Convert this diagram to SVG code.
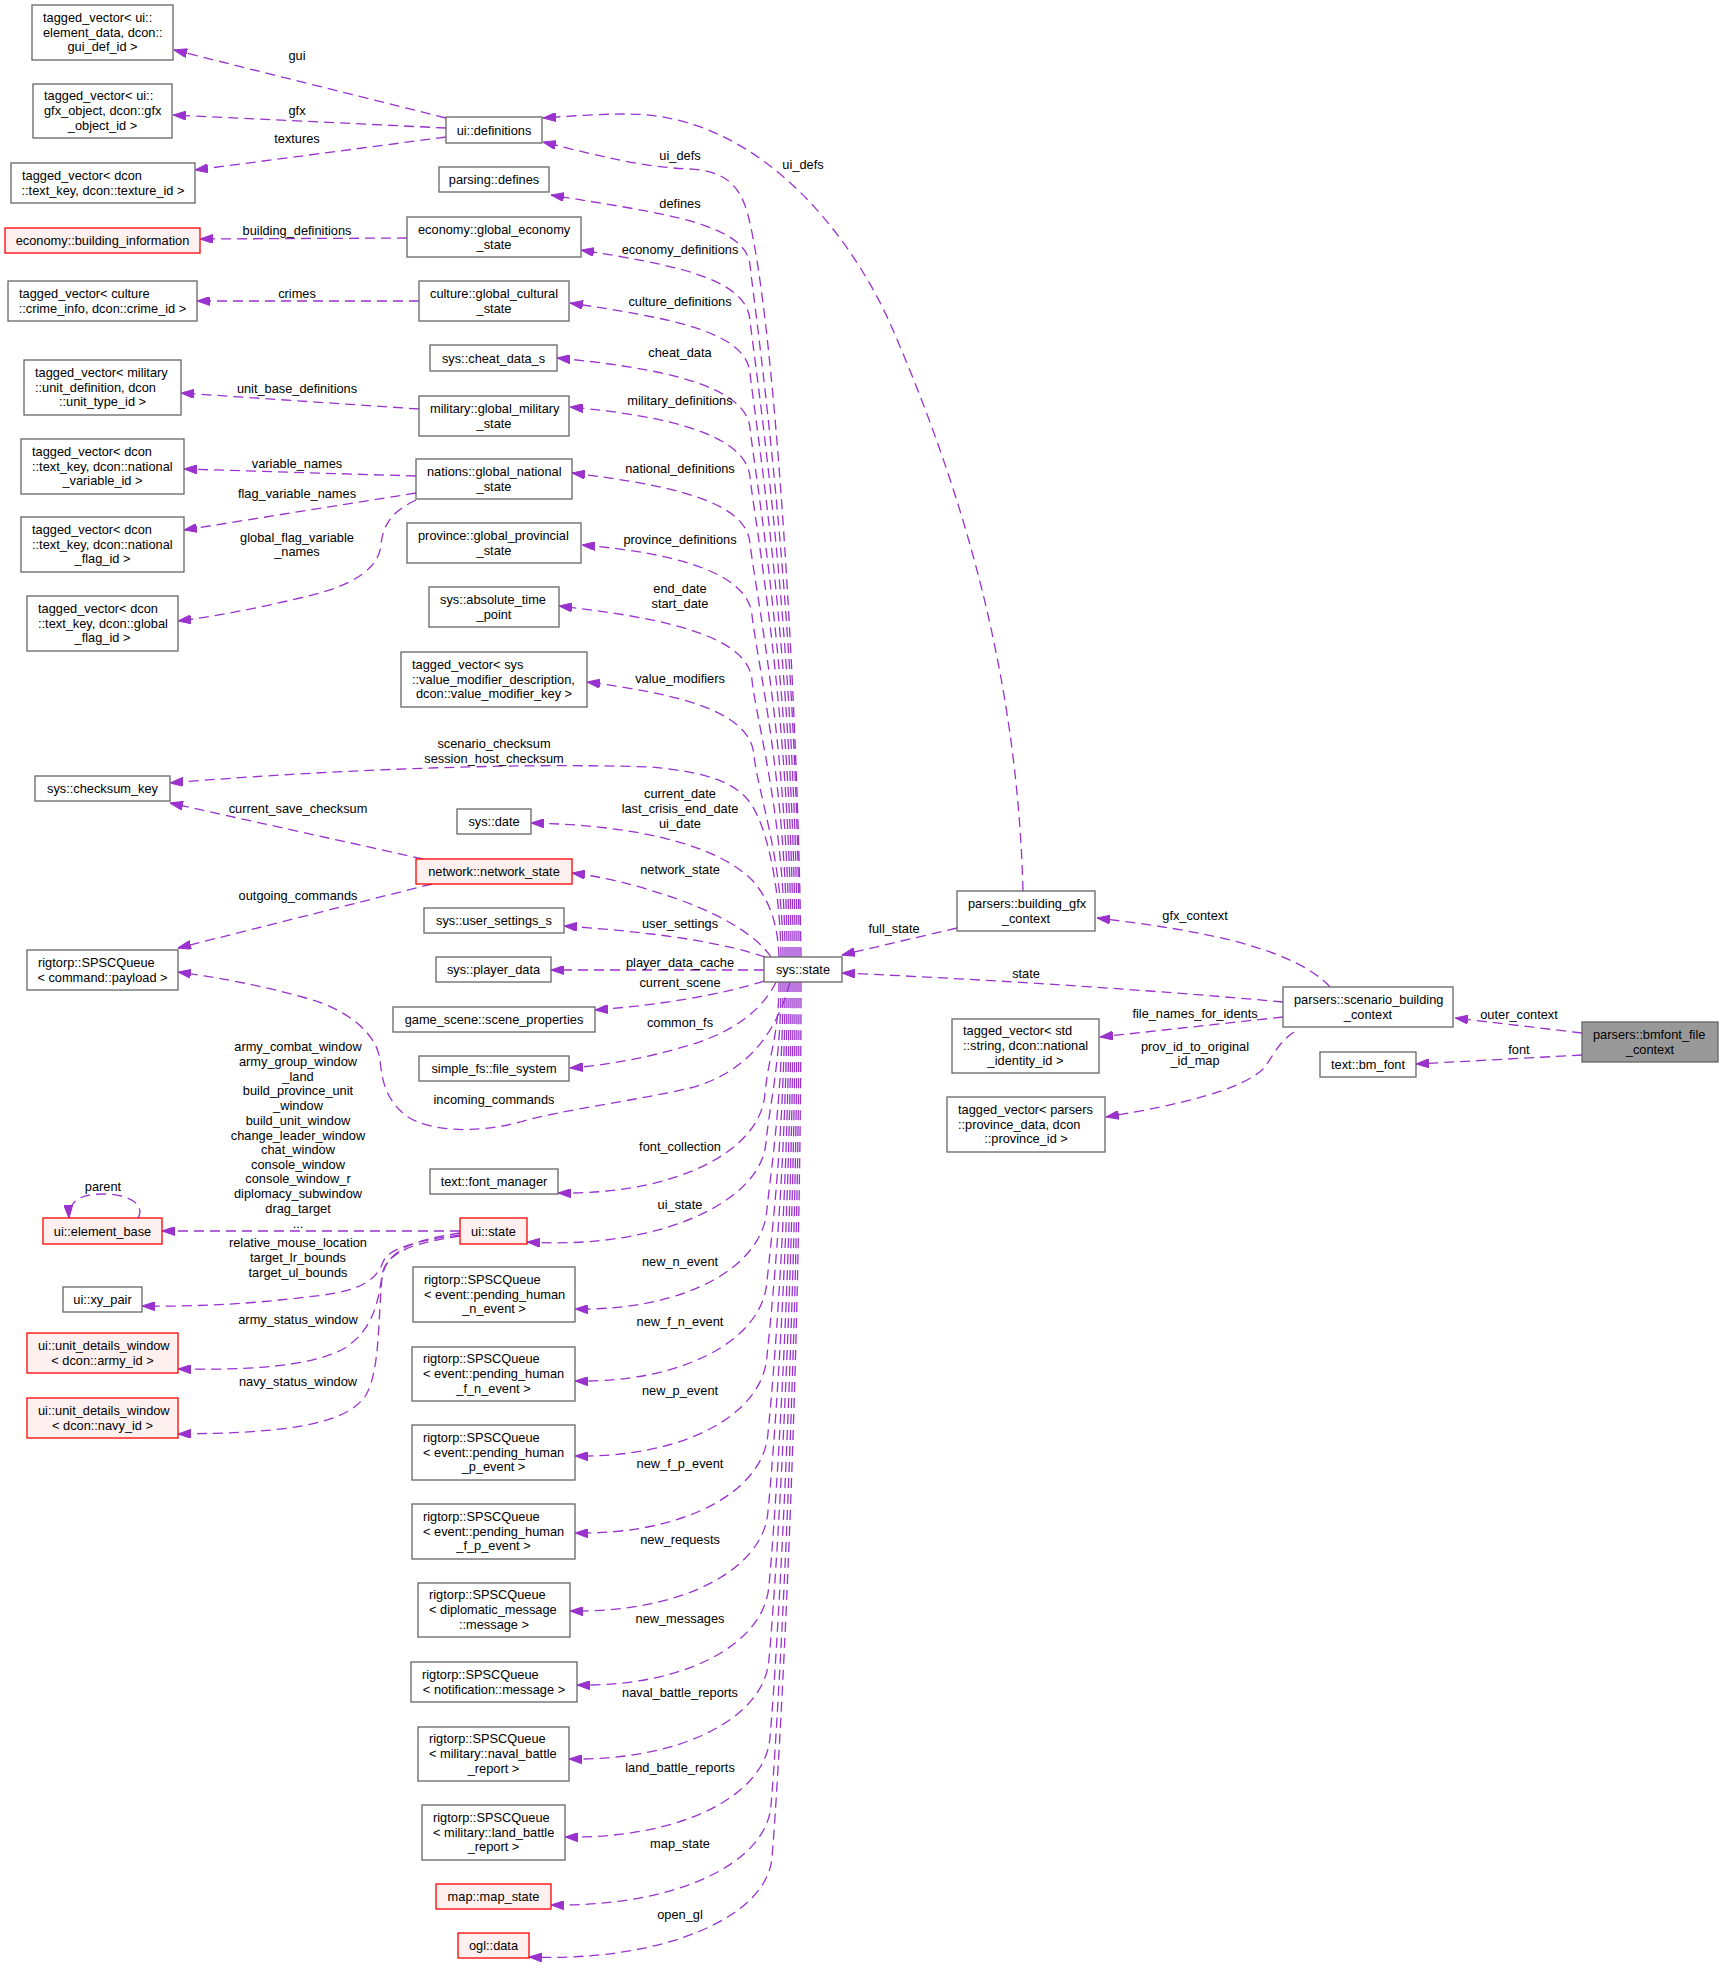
<svg xmlns="http://www.w3.org/2000/svg" width="1723" height="1970" viewBox="0 0 1723 1970">
<style>
text{font-family:"Liberation Sans",Arial,Helvetica,sans-serif;font-size:12.8px;fill:#000}
.m{text-anchor:middle}
.s{text-anchor:start}
.n rect{fill:#fff;stroke:#666;stroke-width:1.3}
.r rect{fill:#fff0f0;stroke:#f00;stroke-width:1.3}
.g rect{fill:#999;stroke:#666;stroke-width:1.3}
.e path{fill:none;stroke:#9a32cd;stroke-width:1.3;stroke-dasharray:10,6;marker-end:url(#ah)}
</style>
<defs>
<marker id="ah" viewBox="0 0 13 9" refX="13" refY="4.5" markerWidth="13" markerHeight="9" markerUnits="userSpaceOnUse" orient="auto">
<path d="M0,0 L13,4.5 L0,9 z" fill="#9a32cd" stroke="#9a32cd" stroke-width="1"/>
</marker>
</defs>
<rect width="1723" height="1970" fill="#fff"/>

<g id="edges" class="e">
<g id="e_gui"><path d="M446,118 L174,50"/><text class="m" x="297" y="59.5">gui</text></g>
<g id="e_gfx"><path d="M446,128 L173,115"/><text class="m" x="297" y="114.5">gfx</text></g>
<g id="e_tex"><path d="M446,137 L195,170"/><text class="m" x="297" y="142.5">textures</text></g>
<g id="e_bld"><path d="M407,238 L200,239"/><text class="m" x="297" y="234.5">building_definitions</text></g>
<g id="e_crimes"><path d="M419,301 L197,301"/><text class="m" x="297" y="297.5">crimes</text></g>
<g id="e_unitbase"><path d="M419,409 L181,393"/><text class="m" x="297" y="392.5">unit_base_definitions</text></g>
<g id="e_varnames"><path d="M416,476 L184,469"/><text class="m" x="297" y="467.5">variable_names</text></g>
<g id="e_flagvar"><path d="M416,493 L184,530"/><text class="m" x="297" y="497.5">flag_variable_names</text></g>
<g id="e_globflag"><path d="M416,500 C395,510 383,522 381,545 C379,565 360,585 300,598 C250,610 210,617 178,621"/><text class="m" x="297" y="541.5">global_flag_variable</text><text class="m" x="297" y="556">_names</text></g>
<g id="e_cursave"><path d="M423,859 L170,803"/><text class="m" x="298" y="812.5">current_save_checksum</text></g>
<g id="e_outgoing"><path d="M432,884 L178,948"/><text class="m" x="298" y="899.5">outgoing_commands</text></g>
<g id="e_elembase"><path d="M460,1231 L162,1231"/>
<text class="m" x="298" y="1051.2">army_combat_window</text>
<text class="m" x="298" y="1066.2">army_group_window</text>
<text class="m" x="298" y="1080.5">_land</text>
<text class="m" x="298" y="1095.2">build_province_unit</text>
<text class="m" x="298" y="1110.2">_window</text>
<text class="m" x="298" y="1124.5">build_unit_window</text>
<text class="m" x="298" y="1139.5">change_leader_window</text>
<text class="m" x="298" y="1153.8">chat_window</text>
<text class="m" x="298" y="1168.8">console_window</text>
<text class="m" x="298" y="1183.2">console_window_r</text>
<text class="m" x="298" y="1198.2">diplomacy_subwindow</text>
<text class="m" x="298" y="1213.2">drag_target</text>
<text class="m" x="298" y="1228">...</text>
<text class="m" x="298" y="1247.2">relative_mouse_location</text>
<text class="m" x="298" y="1261.8">target_lr_bounds</text>
<text class="m" x="298" y="1276.8">target_ul_bounds</text>
</g>
<g id="e_parent"><path d="M138,1218 C146,1204 128,1194 103,1194 C82,1194 68,1200 69,1218"/><text class="m" x="103" y="1191">parent</text></g>
<g id="e_xypair"><path d="M460,1235 C420,1240 388,1248 383,1262 C375,1285 350,1293 306,1297 C260,1303 200,1307 142,1306"/></g>
<g id="e_army"><path d="M460,1236 C420,1242 386,1250 382,1275 C378,1305 372,1330 345,1348 C310,1368 240,1370 178,1369"/><text class="m" x="298" y="1323.5">army_status_window</text></g>
<g id="e_navy"><path d="M460,1233 C420,1239 386,1248 382,1278 C378,1320 380,1370 366,1395 C345,1428 270,1433 178,1434"/><text class="m" x="298" y="1385.5">navy_status_window</text></g>

<g id="e_uidefs"><path d="M801,957 C798,700 775,320 748,215 C740,185 725,171 690,169 C640,167 600,156 543,142"/><text class="m" x="680" y="159.5">ui_defs</text></g>
<g id="e_defines"><path d="M799,957 C799,611 754,305 750,265 C746,223 660,213 551,195"/><text class="m" x="680" y="207.5">defines</text></g>
<g id="e_econ"><path d="M797,957 C797,638 754,360 750,320 C746,278 674,265 581,250"/><text class="m" x="680" y="253.5">economy_definitions</text></g>
<g id="e_culture"><path d="M795,957 C795,665 754,413 750,373 C746,331 669,318 570,303"/><text class="m" x="680" y="305.5">culture_definitions</text></g>
<g id="e_cheat"><path d="M793,957 C793,692 754,468 750,428 C746,386 663,368 557,358"/><text class="m" x="680" y="356.5">cheat_data</text></g>
<g id="e_military"><path d="M791,957 C791,717 754,517 750,477 C746,435 669,416 570,407"/><text class="m" x="680" y="404.5">military_definitions</text></g>
<g id="e_national"><path d="M789,957 C789,750 754,583 750,543 C746,501 670,485 572,473"/><text class="m" x="680" y="472.5">national_definitions</text></g>
<g id="e_province"><path d="M787,957 C787,786 756,655 752,615 C748,573 676,553 582,545"/><text class="m" x="680" y="543.5">province_definitions</text></g>
<g id="e_dates"><path d="M785,957 C785,818 756,720 752,680 C748,636 665,618 559,606"/><text class="m" x="680" y="592.5">end_date</text><text class="m" x="680" y="607.5">start_date</text></g>
<g id="e_valmod"><path d="M783,957 C783,856 758,795 754,755 C750,711 679,694 587,682"/><text class="m" x="680" y="682.5">value_modifiers</text></g>
<g id="e_checksum"><path d="M781,957 C780,880 765,820 748,800 C735,784 710,772 650,767 C500,762 300,772 170,783"/><text class="m" x="494" y="747.5">scenario_checksum</text><text class="m" x="494" y="762.5">session_host_checksum</text></g>
<g id="e_curdate"><path d="M779,957 C778,925 770,900 752,880 C730,858 690,842 640,833 C600,826 570,824 531,823"/><text class="m" x="680" y="797.5">current_date</text><text class="m" x="680" y="812.5">last_crisis_end_date</text><text class="m" x="680" y="827.5">ui_date</text></g>
<g id="e_network"><path d="M771,957 C760,940 730,918 680,900 C640,886 610,878 572,873"/><text class="m" x="680" y="873.5">network_state</text></g>
<g id="e_usersettings"><path d="M765,957 C730,945 670,933 564,926"/><text class="m" x="680" y="927.5">user_settings</text></g>
<g id="e_playerdata"><path d="M764,970 L551,970"/><text class="m" x="680" y="966.5">player_data_cache</text></g>
<g id="e_scene"><path d="M764,981 C720,995 660,1005 595,1010"/><text class="m" x="680" y="986.5">current_scene</text></g>
<g id="e_commonfs"><path d="M776,982 C765,1005 740,1030 690,1045 C650,1057 610,1065 570,1068"/><text class="m" x="680" y="1026.5">common_fs</text></g>
<g id="e_incoming"><path d="M790,982 C775,1040 740,1075 690,1088 C640,1100 560,1110 520,1122 C480,1133 430,1133 405,1115 C385,1098 382,1080 380,1060 C377,1035 350,1010 306,998 C260,985 220,978 178,972"/><text class="m" x="494" y="1103.5">incoming_commands</text></g>
<g id="e_fontcoll"><path d="M779,982 C779,1037 769,1053 765,1093 C761,1153 672,1195 558,1193"/><text class="m" x="680" y="1150.5">font_collection</text></g>
<g id="e_uistate"><path d="M781,982 C781,1062 770,1102 766,1142 C762,1202 658,1250 527,1242"/><text class="m" x="680" y="1208.5">ui_state</text></g>
<g id="e_newn"><path d="M783,982 C783,1095 771,1169 767,1209 C763,1269 681,1311 575,1309"/><text class="m" x="680" y="1265.5">new_n_event</text></g>
<g id="e_newfn"><path d="M785,982 C785,1131 771,1241 767,1281 C763,1341 681,1383 575,1381"/><text class="m" x="680" y="1325.5">new_f_n_event</text></g>
<g id="e_newp"><path d="M787,982 C787,1169 771,1316 767,1356 C763,1416 681,1458 575,1456"/><text class="m" x="680" y="1394.5">new_p_event</text></g>
<g id="e_newfp"><path d="M789,982 C789,1207 772,1393 768,1433 C764,1493 681,1535 575,1533"/><text class="m" x="680" y="1467.5">new_f_p_event</text></g>
<g id="e_newreq"><path d="M791,982 C791,1246 772,1471 768,1511 C764,1571 679,1613 570,1611"/><text class="m" x="680" y="1543.5">new_requests</text></g>
<g id="e_newmsg"><path d="M793,982 C793,1283 773,1545 769,1585 C765,1645 683,1687 577,1685"/><text class="m" x="680" y="1622.5">new_messages</text></g>
<g id="e_naval"><path d="M795,982 C795,1320 773,1619 769,1659 C765,1719 679,1761 569,1759"/><text class="m" x="680" y="1696.5">naval_battle_reports</text></g>
<g id="e_land"><path d="M797,982 C797,1359 774,1697 770,1737 C766,1797 678,1839 565,1837"/><text class="m" x="680" y="1771.5">land_battle_reports</text></g>
<g id="e_map"><path d="M799,982 C799,1393 775,1765 771,1805 C767,1865 672,1907 551,1905"/><text class="m" x="680" y="1847.5">map_state</text></g>
<g id="e_ogl"><path d="M801,982 C801,1420 776,1817 772,1857 C768,1917 663,1962 529,1957"/><text class="m" x="680" y="1918.5">open_gl</text></g>

<g id="e_bgfx_uidefs"><path d="M1023,891 C1018,700 975,520 893,330 C853,237 760,114 627,114 C600,114 570,116 543,118"/><text class="m" x="803" y="168.5">ui_defs</text></g>
<g id="e_fullstate"><path d="M957,928 L842,955"/><text class="m" x="894" y="932.5">full_state</text></g>
<g id="e_state"><path d="M1283,1002 C1150,990 1000,980 842,973"/><text class="m" x="1026" y="977.5">state</text></g>
<g id="e_gfxctx"><path d="M1330,987 C1310,965 1270,950 1230,940 C1180,928 1130,922 1097,918"/><text class="m" x="1195" y="919.5">gfx_context</text></g>
<g id="e_filenames"><path d="M1283,1017 L1100,1037"/><text class="m" x="1195" y="1017.5">file_names_for_idents</text></g>
<g id="e_provid"><path d="M1294,1032 C1275,1045 1272,1060 1262,1070 C1240,1090 1180,1105 1106,1117"/><text class="m" x="1195" y="1050.5">prov_id_to_original</text><text class="m" x="1195" y="1064.5">_id_map</text></g>
<g id="e_outer"><path d="M1582,1033 L1455,1018"/><text class="m" x="1519" y="1018.5">outer_context</text></g>
<g id="e_font"><path d="M1582,1055 L1416,1064"/><text class="m" x="1519" y="1053.5">font</text></g>
</g>

<g id="nodes">
<g id="n_gui" class="n"><rect x="32" y="5" width="141" height="55"/><text class="s" x="43" y="21.8">tagged_vector&lt; ui::</text><text class="s" x="43" y="36.5">element_data, dcon::</text><text class="m" x="102.5" y="51.2">gui_def_id &gt;</text></g>
<g id="n_gfxobj" class="n"><rect x="33" y="84" width="139" height="54"/><text class="s" x="44" y="100.3">tagged_vector&lt; ui::</text><text class="s" x="44" y="115">gfx_object, dcon::gfx</text><text class="m" x="102.5" y="129.7">_object_id &gt;</text></g>
<g id="n_texture" class="n"><rect x="11" y="163" width="184" height="40"/><text class="s" x="22" y="179.9">tagged_vector&lt; dcon</text><text class="m" x="103" y="194.5">::text_key, dcon::texture_id &gt;</text></g>
<g id="n_bldinfo" class="r"><rect x="5" y="228" width="195" height="25"/><text class="m" x="102.5" y="245">economy::building_information</text></g>
<g id="n_crime" class="n"><rect x="8" y="281" width="189" height="40"/><text class="s" x="19" y="297.9">tagged_vector&lt; culture</text><text class="m" x="102.5" y="312.5">::crime_info, dcon::crime_id &gt;</text></g>
<g id="n_unitdef" class="n"><rect x="24" y="360" width="157" height="55"/><text class="s" x="35" y="376.8">tagged_vector&lt; military</text><text class="s" x="35" y="391.5">::unit_definition, dcon</text><text class="m" x="102.5" y="406.2">::unit_type_id &gt;</text></g>
<g id="n_natvar" class="n"><rect x="21" y="439" width="163" height="55"/><text class="s" x="32" y="455.8">tagged_vector&lt; dcon</text><text class="s" x="32" y="470.5">::text_key, dcon::national</text><text class="m" x="102.5" y="485.2">_variable_id &gt;</text></g>
<g id="n_natflag" class="n"><rect x="21" y="517" width="163" height="55"/><text class="s" x="32" y="533.8">tagged_vector&lt; dcon</text><text class="s" x="32" y="548.5">::text_key, dcon::national</text><text class="m" x="102.5" y="563.2">_flag_id &gt;</text></g>
<g id="n_globflag" class="n"><rect x="27" y="596" width="151" height="55"/><text class="s" x="38" y="612.8">tagged_vector&lt; dcon</text><text class="s" x="38" y="627.5">::text_key, dcon::global</text><text class="m" x="102.5" y="642.2">_flag_id &gt;</text></g>
<g id="n_checksum" class="n"><rect x="35" y="776" width="135" height="25"/><text class="m" x="102.5" y="793">sys::checksum_key</text></g>
<g id="n_cmdqueue" class="n"><rect x="27" y="950" width="151" height="40"/><text class="s" x="38" y="966.9">rigtorp::SPSCQueue</text><text class="m" x="102.5" y="981.5">&lt; command::payload &gt;</text></g>
<g id="n_elembase" class="r"><rect x="43" y="1218" width="119" height="26"/><text class="m" x="102.5" y="1235.5">ui::element_base</text></g>
<g id="n_xypair" class="n"><rect x="63" y="1287" width="79" height="25"/><text class="m" x="102.5" y="1304">ui::xy_pair</text></g>
<g id="n_army" class="r"><rect x="27" y="1333" width="151" height="40"/><text class="s" x="38" y="1349.9">ui::unit_details_window</text><text class="m" x="102.5" y="1364.5">&lt; dcon::army_id &gt;</text></g>
<g id="n_navy" class="r"><rect x="27" y="1398" width="151" height="40"/><text class="s" x="38" y="1414.9">ui::unit_details_window</text><text class="m" x="102.5" y="1429.5">&lt; dcon::navy_id &gt;</text></g>

<g id="n_uidefs" class="n"><rect x="446" y="117" width="96" height="26"/><text class="m" x="494" y="134.5">ui::definitions</text></g>
<g id="n_defines" class="n"><rect x="439" y="167" width="110" height="25"/><text class="m" x="494" y="184">parsing::defines</text></g>
<g id="n_econ" class="n"><rect x="407" y="217" width="174" height="40"/><text class="s" x="418" y="233.9">economy::global_economy</text><text class="m" x="494" y="248.5">_state</text></g>
<g id="n_culture" class="n"><rect x="419" y="281" width="150" height="40"/><text class="s" x="430" y="297.9">culture::global_cultural</text><text class="m" x="494" y="312.5">_state</text></g>
<g id="n_cheat" class="n"><rect x="430" y="345" width="127" height="26"/><text class="m" x="493.5" y="362.5">sys::cheat_data_s</text></g>
<g id="n_military" class="n"><rect x="419" y="396" width="150" height="40"/><text class="s" x="430" y="412.9">military::global_military</text><text class="m" x="494" y="427.5">_state</text></g>
<g id="n_national" class="n"><rect x="416" y="459" width="156" height="40"/><text class="s" x="427" y="475.9">nations::global_national</text><text class="m" x="494" y="490.5">_state</text></g>
<g id="n_province" class="n"><rect x="407" y="523" width="174" height="40"/><text class="s" x="418" y="539.9">province::global_provincial</text><text class="m" x="494" y="554.5">_state</text></g>
<g id="n_abstime" class="n"><rect x="429" y="587" width="130" height="40"/><text class="s" x="440" y="603.9">sys::absolute_time</text><text class="m" x="494" y="618.5">_point</text></g>
<g id="n_valmod" class="n"><rect x="401" y="652" width="186" height="55"/><text class="s" x="412" y="668.8">tagged_vector&lt; sys</text><text class="s" x="412" y="683.5">::value_modifier_description,</text><text class="m" x="494" y="698.2">dcon::value_modifier_key &gt;</text></g>
<g id="n_date" class="n"><rect x="457" y="809" width="74" height="25"/><text class="m" x="494" y="826">sys::date</text></g>
<g id="n_network" class="r"><rect x="416" y="859" width="156" height="25"/><text class="m" x="494" y="876">network::network_state</text></g>
<g id="n_usersettings" class="n"><rect x="424" y="908" width="140" height="25"/><text class="m" x="494" y="925">sys::user_settings_s</text></g>
<g id="n_playerdata" class="n"><rect x="436" y="957" width="115" height="25"/><text class="m" x="493.5" y="974">sys::player_data</text></g>
<g id="n_scene" class="n"><rect x="393" y="1007" width="202" height="25"/><text class="m" x="494" y="1024">game_scene::scene_properties</text></g>
<g id="n_simplefs" class="n"><rect x="419" y="1056" width="150" height="25"/><text class="m" x="494" y="1073">simple_fs::file_system</text></g>
<g id="n_fontmgr" class="n"><rect x="430" y="1169" width="128" height="25"/><text class="m" x="494" y="1186">text::font_manager</text></g>
<g id="n_uistate" class="r"><rect x="460" y="1218" width="67" height="26"/><text class="m" x="493.5" y="1235.5">ui::state</text></g>
<g id="n_pend_n" class="n"><rect x="413" y="1267" width="162" height="55"/><text class="s" x="424" y="1283.8">rigtorp::SPSCQueue</text><text class="s" x="424" y="1298.5">&lt; event::pending_human</text><text class="m" x="494" y="1313.2">_n_event &gt;</text></g>
<g id="n_pend_fn" class="n"><rect x="412" y="1347" width="163" height="54"/><text class="s" x="423" y="1363.3">rigtorp::SPSCQueue</text><text class="s" x="423" y="1378">&lt; event::pending_human</text><text class="m" x="493.5" y="1392.7">_f_n_event &gt;</text></g>
<g id="n_pend_p" class="n"><rect x="412" y="1425" width="163" height="55"/><text class="s" x="423" y="1441.8">rigtorp::SPSCQueue</text><text class="s" x="423" y="1456.5">&lt; event::pending_human</text><text class="m" x="493.5" y="1471.2">_p_event &gt;</text></g>
<g id="n_pend_fp" class="n"><rect x="412" y="1504" width="163" height="55"/><text class="s" x="423" y="1520.8">rigtorp::SPSCQueue</text><text class="s" x="423" y="1535.5">&lt; event::pending_human</text><text class="m" x="493.5" y="1550.2">_f_p_event &gt;</text></g>
<g id="n_diplo" class="n"><rect x="418" y="1583" width="152" height="54"/><text class="s" x="429" y="1599.3">rigtorp::SPSCQueue</text><text class="s" x="429" y="1614">&lt; diplomatic_message</text><text class="m" x="494" y="1628.7">::message &gt;</text></g>
<g id="n_notif" class="n"><rect x="411" y="1662" width="166" height="40"/><text class="s" x="422" y="1678.9">rigtorp::SPSCQueue</text><text class="m" x="494" y="1693.5">&lt; notification::message &gt;</text></g>
<g id="n_naval" class="n"><rect x="418" y="1727" width="151" height="54"/><text class="s" x="429" y="1743.3">rigtorp::SPSCQueue</text><text class="s" x="429" y="1758">&lt; military::naval_battle</text><text class="m" x="493.5" y="1772.7">_report &gt;</text></g>
<g id="n_land" class="n"><rect x="422" y="1805" width="143" height="55"/><text class="s" x="433" y="1821.8">rigtorp::SPSCQueue</text><text class="s" x="433" y="1836.5">&lt; military::land_battle</text><text class="m" x="493.5" y="1851.2">_report &gt;</text></g>
<g id="n_mapstate" class="r"><rect x="436" y="1884" width="115" height="25"/><text class="m" x="493.5" y="1901">map::map_state</text></g>
<g id="n_ogl" class="r"><rect x="458" y="1933" width="71" height="25"/><text class="m" x="493.5" y="1950">ogl::data</text></g>

<g id="n_sysstate" class="n"><rect x="764" y="957" width="78" height="25"/><text class="m" x="803" y="974">sys::state</text></g>
<g id="n_bgfx" class="n"><rect x="957" y="891" width="138" height="40"/><text class="s" x="968" y="907.9">parsers::building_gfx</text><text class="m" x="1026" y="922.5">_context</text></g>
<g id="n_scen" class="n"><rect x="1283" y="987" width="170" height="40"/><text class="s" x="1294" y="1003.9">parsers::scenario_building</text><text class="m" x="1368" y="1018.5">_context</text></g>
<g id="n_identity" class="n"><rect x="952" y="1019" width="147" height="54"/><text class="s" x="963" y="1035.3">tagged_vector&lt; std</text><text class="s" x="963" y="1050">::string, dcon::national</text><text class="m" x="1025.5" y="1064.7">_identity_id &gt;</text></g>
<g id="n_provdata" class="n"><rect x="947" y="1097" width="158" height="55"/><text class="s" x="958" y="1113.8">tagged_vector&lt; parsers</text><text class="s" x="958" y="1128.5">::province_data, dcon</text><text class="m" x="1026" y="1143.2">::province_id &gt;</text></g>
<g id="n_bmfont" class="n"><rect x="1320" y="1052" width="96" height="25"/><text class="m" x="1368" y="1069">text::bm_font</text></g>
<g id="n_bmfontctx" class="g"><rect x="1582" y="1022" width="136" height="40"/><text class="s" x="1593" y="1038.9">parsers::bmfont_file</text><text class="m" x="1650" y="1053.5">_context</text></g>
</g>
</svg>
